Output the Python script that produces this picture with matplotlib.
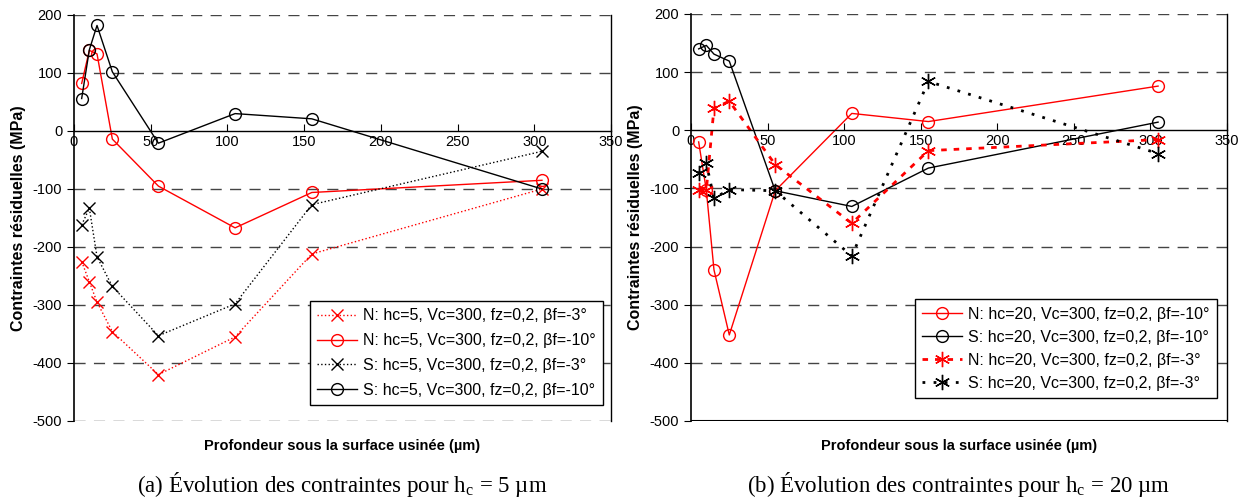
import matplotlib
matplotlib.use("Agg")
import matplotlib.pyplot as plt

plt.rcParams['font.family'] = ['Liberation Sans', 'DejaVu Sans']
plt.rcParams['mathtext.fontset'] = 'custom'
plt.rcParams['mathtext.rm'] = 'Liberation Serif'
plt.rcParams['axes.unicode_minus'] = False

# profondeurs (µm)
x = [5, 10, 15, 25, 55, 105, 155, 305]

# (a) hc = 5 µm
a_N3 = [-225, -260, -295, -346, -420, -355, -212, -100]
a_N10 = [82, 139, 133, -14, -95, -167, -106, -85]
a_S3 = [-162, -133, -217, -268, -353, -298, -127, -35]
a_S10 = [56, 140, 182, 102, -21, 30, 21, -100]

# (b) hc = 20 µm
b_N10 = [-20, -103, -240, -352, -104, 29, 15, 76]
b_S10 = [140, 146, 131, 119, -104, -131, -65, 14]
b_N3 = [-103, -103, 38, 50, -59, -160, -35, -16]
b_S3 = [-74, -57, -117, -102, -104, -216, 84, -40]

xlabel = "Profondeur sous la surface usinée (µm)"
ylabel = "Contraintes résiduelles (MPa)"

fig = plt.figure(figsize=(12.47, 4.99), dpi=100)
W, H = 1247, 499
ax1 = fig.add_axes([74 / W, 1 - 421 / H, (611 - 74) / W, (421 - 15) / H])
ax2 = fig.add_axes([691 / W, 1 - 421 / H, (1227 - 691) / W, (421 - 14) / H])

star = (6, 2, 0)

ax1.plot(x, a_N3, color='red', ls=':', lw=1, marker='x', ms=8, mew=1,
         label="N: hc=5, Vc=300, fz=0,2, βf=-3°")
ax1.plot(x, a_N10, color='red', ls='-', lw=1, marker='o', ms=8.5, mfc='none', mew=1,
         label="N: hc=5, Vc=300, fz=0,2, βf=-10°")
ax1.plot(x, a_S3, color='black', ls=':', lw=1, marker='x', ms=8, mew=1,
         label="S: hc=5, Vc=300, fz=0,2, βf=-3°")
ax1.plot(x, a_S10, color='black', ls='-', lw=1, marker='o', ms=8.5, mfc='none', mew=1,
         label="S: hc=5, Vc=300, fz=0,2, βf=-10°")

ax2.plot(x, b_N10, color='red', ls='-', lw=1, marker='o', ms=8.5, mfc='none', mew=1,
         label="N: hc=20, Vc=300, fz=0,2, βf=-10°")
ax2.plot(x, b_S10, color='black', ls='-', lw=1, marker='o', ms=8.5, mfc='none', mew=1,
         label="S: hc=20, Vc=300, fz=0,2, βf=-10°")
ax2.plot(x, b_N3, color='red', ls=(0, (2, 2.5)), lw=2, marker=star, ms=11, mew=1,
         label="N: hc=20, Vc=300, fz=0,2, βf=-3°")
ax2.plot(x, b_S3, color='black', ls=(0, (1, 3)), lw=2, marker=star, ms=11, mew=1,
         label="S: hc=20, Vc=300, fz=0,2, βf=-3°")

for ax, cap in [(ax1, "(a) Évolution des contraintes pour h$_\\mathrm{c}$ = 5 µm"),
                (ax2, "(b) Évolution des contraintes pour h$_\\mathrm{c}$ = 20 µm")]:
    ax.set_xlim(0, 350)
    ax.set_ylim(-500, 200)
    ax.set_xticks(range(0, 351, 50))
    ax.set_yticks(range(-500, 201, 100))
    for v in range(-500, 201, 100):
        if v != 0:
            ax.axhline(v, color='#444444', lw=1, ls=(0, (8, 6)), zorder=0)
    ax.spines['bottom'].set_position(('data', 0))
    ax.spines['top'].set_visible(False)
    ax.spines['right'].set_linewidth(1)
    ax.spines['left'].set_linewidth(1.2)
    ax.spines['bottom'].set_linewidth(1)
    ax.tick_params(axis='x', direction='in', length=5, labelsize=10.5, pad=3)
    ax.tick_params(axis='y', direction='out', length=5, labelsize=10.5)
    ax.set_ylabel(ylabel, fontsize=11.5, fontweight='bold', labelpad=5)
    ax.text(0.5, -0.045, xlabel, transform=ax.transAxes, ha='center', va='top',
            fontsize=10.5, fontweight='bold')
    ax.text(0.5, -0.174, cap, transform=ax.transAxes, ha='center', va='baseline',
            fontsize=16.5, family='Liberation Serif')

ax2.axhline(-500, color='black', lw=1.5, zorder=1)

ax1.legend(loc='lower right', bbox_to_anchor=(0.985, 0.039), borderaxespad=0,
           fontsize=11.5, frameon=True, fancybox=False, edgecolor='black',
           framealpha=1, handlelength=2.5, handletextpad=0.4, borderpad=0.45,
           labelspacing=0.62)
ax2.legend(loc='lower right', bbox_to_anchor=(0.981, 0.057), borderaxespad=0,
           fontsize=11.5, frameon=True, fancybox=False, edgecolor='black',
           framealpha=1, handlelength=2.5, handletextpad=0.4, borderpad=0.45,
           labelspacing=0.5)

fig.savefig("out.png", dpi=100)
